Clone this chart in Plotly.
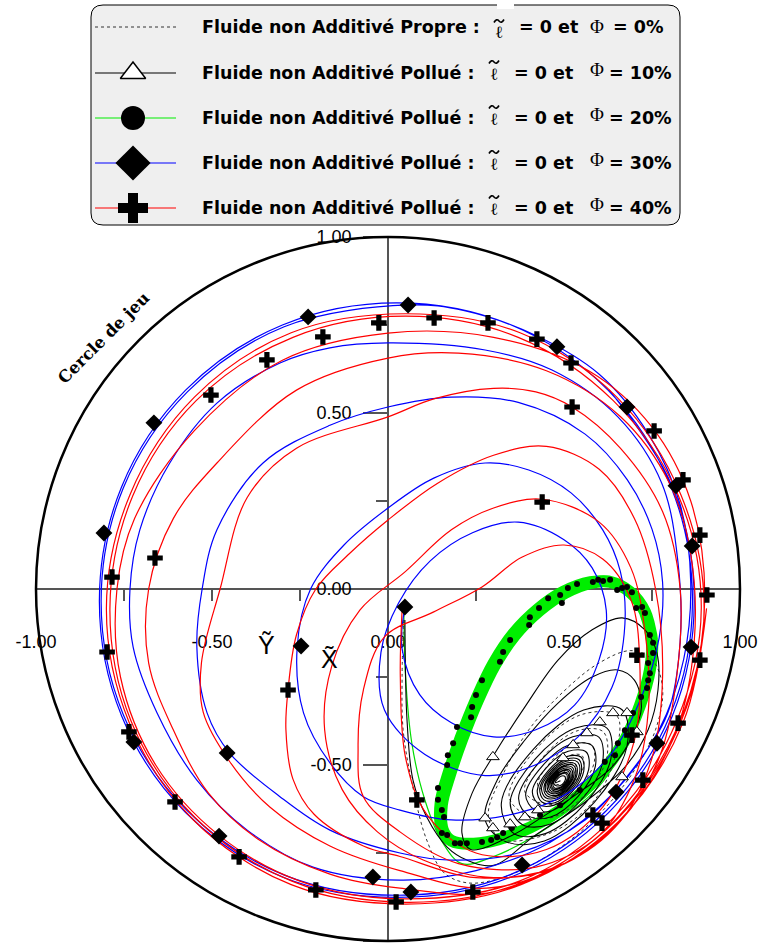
import plotly.graph_objects as go

# ------------------------------------------------------------------
# Rotor centre orbits (X~, Y~) in the bearing, clearance units
# ------------------------------------------------------------------

# Phi = 0 % : clean fluid (dotted)
clean_path = [
    (0.045, -0.070), (0.040, -0.250), (0.043, -0.400), (0.070, -0.560), (0.110, -0.713),
    (0.160, -0.807), (0.227, -0.835), (0.324, -0.820), (0.450, -0.760), (0.580, -0.660),
    (0.690, -0.530), (0.760, -0.400), (0.780, -0.280), (0.750, -0.200), (0.690, -0.175),
    (0.600, -0.210), (0.500, -0.290), (0.400, -0.400), (0.330, -0.520), (0.285, -0.640),
    (0.320, -0.710), (0.461, -0.693), (0.588, -0.598), (0.649, -0.460), (0.650, -0.360),
    (0.549, -0.357), (0.423, -0.452), (0.344, -0.590), (0.399, -0.645), (0.473, -0.647),
    (0.565, -0.578), (0.622, -0.478), (0.611, -0.405), (0.537, -0.403), (0.445, -0.472),
    (0.388, -0.573), (0.432, -0.608), (0.483, -0.609), (0.546, -0.561), (0.586, -0.492),
    (0.578, -0.443), (0.527, -0.441), (0.464, -0.489), (0.425, -0.558), (0.459, -0.578),
    (0.491, -0.578), (0.531, -0.548), (0.556, -0.504), (0.551, -0.473), (0.519, -0.472),
    (0.479, -0.502), (0.454, -0.546), (0.479, -0.555), (0.497, -0.556), (0.520, -0.539),
    (0.534, -0.513), (0.531, -0.495), (0.512, -0.497), (0.500, -0.515), (0.505, -0.525),
]

# Phi = 10 % : converging spiral
phi10_path = [
    (0.048, -0.088), (0.050, -0.250), (0.054, -0.372), (0.071, -0.543), (0.110, -0.648),
    (0.168, -0.733), (0.224, -0.770), (0.300, -0.785), (0.418, -0.700), (0.560, -0.605),
    (0.673, -0.506), (0.739, -0.400), (0.767, -0.287), (0.764, -0.182), (0.730, -0.116),
    (0.665, -0.082), (0.580, -0.116), (0.483, -0.202), (0.389, -0.335), (0.304, -0.466),
    (0.239, -0.580), (0.210, -0.693), (0.235, -0.740),
    (0.352, -0.700), (0.438, -0.648), (0.540, -0.580), (0.636, -0.506), (0.693, -0.420),
    (0.720, -0.335), (0.700, -0.259), (0.653, -0.230), (0.580, -0.250), (0.483, -0.324),
    (0.389, -0.429), (0.310, -0.543), (0.276, -0.656),
    (0.335, -0.718), (0.444, -0.716), (0.586, -0.606), (0.678, -0.451), (0.665, -0.343),
    (0.556, -0.344), (0.414, -0.454), (0.322, -0.609),
    (0.358, -0.695), (0.447, -0.695), (0.561, -0.608), (0.633, -0.483), (0.622, -0.395),
    (0.533, -0.395), (0.419, -0.482), (0.347, -0.607),
    (0.381, -0.669), (0.455, -0.670), (0.550, -0.598), (0.609, -0.495), (0.599, -0.421),
    (0.525, -0.420), (0.430, -0.492), (0.371, -0.595),
    (0.401, -0.646), (0.462, -0.648), (0.540, -0.589), (0.589, -0.504), (0.579, -0.444),
    (0.517, -0.442), (0.440, -0.501), (0.391, -0.585),
    (0.417, -0.628), (0.468, -0.629), (0.531, -0.581), (0.570, -0.513), (0.563, -0.463),
    (0.512, -0.461), (0.449, -0.509), (0.410, -0.577),
    (0.431, -0.613), (0.472, -0.614), (0.524, -0.575), (0.556, -0.518), (0.549, -0.478),
    (0.508, -0.476), (0.456, -0.515), (0.424, -0.572),
    (0.437, -0.605), (0.474, -0.607), (0.521, -0.572), (0.549, -0.522), (0.543, -0.485),
    (0.506, -0.484), (0.459, -0.518), (0.431, -0.568),
    (0.443, -0.599), (0.476, -0.600), (0.518, -0.569), (0.544, -0.524), (0.538, -0.491),
    (0.504, -0.490), (0.462, -0.521), (0.436, -0.566),
    (0.448, -0.593), (0.478, -0.594), (0.515, -0.567), (0.537, -0.527), (0.532, -0.497),
    (0.502, -0.496), (0.465, -0.523), (0.443, -0.563),
    (0.452, -0.588), (0.479, -0.589), (0.513, -0.565), (0.533, -0.529), (0.528, -0.502),
    (0.501, -0.501), (0.468, -0.525), (0.447, -0.561),
    (0.456, -0.583), (0.481, -0.585), (0.510, -0.563), (0.528, -0.531), (0.524, -0.507),
    (0.500, -0.505), (0.470, -0.527), (0.452, -0.559),
    (0.460, -0.579), (0.482, -0.580), (0.508, -0.561), (0.524, -0.532), (0.520, -0.511),
    (0.498, -0.510), (0.472, -0.529), (0.456, -0.558),
    (0.464, -0.575), (0.482, -0.576), (0.506, -0.559), (0.520, -0.534), (0.516, -0.515),
    (0.498, -0.514), (0.474, -0.531), (0.460, -0.556),
    (0.467, -0.571), (0.484, -0.573), (0.504, -0.558), (0.516, -0.535), (0.513, -0.519),
    (0.496, -0.517), (0.476, -0.533), (0.464, -0.555),
    (0.470, -0.568), (0.485, -0.568), (0.502, -0.556), (0.513, -0.537), (0.510, -0.523),
    (0.496, -0.522), (0.478, -0.534), (0.468, -0.553),
    (0.473, -0.565), (0.485, -0.565), (0.501, -0.554), (0.509, -0.538), (0.507, -0.526),
    (0.495, -0.525), (0.480, -0.536), (0.471, -0.552),
    (0.478, -0.559), (0.487, -0.559), (0.498, -0.552), (0.504, -0.541), (0.502, -0.532),
    (0.493, -0.531), (0.483, -0.538), (0.476, -0.550), (0.490, -0.545),
]
phi10_marks = [
    (0.298, -0.477), (0.276, -0.651), (0.298, -0.679), (0.347, -0.668), (0.389, -0.648),
    (0.426, -0.628), (0.497, -0.480), (0.526, -0.443), (0.565, -0.409), (0.602, -0.378),
    (0.639, -0.352), (0.679, -0.352), (0.665, -0.534), (0.707, -0.406),
]

# Phi = 20 % : transient then limit cycle (band = repeated laps)
phi20_transient = [
    (0.045, -0.060), (0.050, -0.250), (0.068, -0.440), (0.105, -0.600), (0.155, -0.720),
    (0.210, -0.780), (0.300, -0.760), (0.466, -0.670), (0.600, -0.560), (0.680, -0.430),
    (0.720, -0.320), (0.745, -0.200), (0.750, -0.145),
]
phi20_cycle = [
    (0.750, -0.145), (0.730, -0.065), (0.688, -0.009), (0.631, 0.020), (0.574, 0.017),
    (0.503, -0.011), (0.432, -0.060), (0.361, -0.131), (0.304, -0.216), (0.256, -0.315),
    (0.210, -0.429), (0.176, -0.528), (0.153, -0.614), (0.156, -0.685), (0.180, -0.715),
    (0.261, -0.722), (0.375, -0.690), (0.489, -0.628), (0.602, -0.528), (0.673, -0.429),
    (0.716, -0.330), (0.744, -0.230), (0.750, -0.145), (0.730, -0.065),
]
phi20_cycle_outer = [
    (0.631, 0.026), (0.574, 0.025), (0.495, -0.003), (0.423, -0.052), (0.352, -0.123),
    (0.295, -0.208), (0.247, -0.307), (0.201, -0.421), (0.167, -0.520), (0.144, -0.606),
    (0.147, -0.680), (0.170, -0.712),
]
phi20_marks = [
    (0.537, 0.014), (0.582, 0.020), (0.597, 0.026), (0.611, 0.023), (0.631, 0.026),
    (0.651, -0.003), (0.665, 0.003), (0.679, 0.006), (0.693, -0.009), (0.705, -0.054),
    (0.722, -0.051), (0.730, -0.068), (0.744, -0.131), (0.753, -0.153), (0.753, -0.182),
    (0.511, 0.003), (0.489, -0.017), (0.494, -0.040), (0.455, -0.026), (0.429, -0.054),
    (0.403, -0.080), (0.401, -0.102), (0.347, -0.145), (0.327, -0.179), (0.318, -0.207),
    (0.267, -0.259), (0.250, -0.301), (0.239, -0.335), (0.236, -0.364), (0.196, -0.392),
    (0.185, -0.438), (0.170, -0.472), (0.168, -0.500), (0.142, -0.565), (0.142, -0.599),
    (0.153, -0.628), (0.159, -0.648), (0.153, -0.693), (0.168, -0.699), (0.190, -0.722),
    (0.205, -0.722), (0.224, -0.722), (0.267, -0.719), (0.293, -0.713), (0.310, -0.705),
    (0.327, -0.693), (0.352, -0.679), (0.432, -0.642), (0.489, -0.614), (0.545, -0.571),
    (0.616, -0.491), (0.645, -0.472), (0.653, -0.438), (0.673, -0.401), (0.696, -0.352),
    (0.719, -0.307), (0.736, -0.281), (0.739, -0.259), (0.744, -0.239), (0.739, -0.210),
]

# Phi = 30 % : diverging orbit
phi30_path = [
    (0.048, -0.051), (0.040, -0.170), (0.090, -0.300), (0.180, -0.380), (0.300, -0.420),
    (0.420, -0.400), (0.530, -0.330), (0.600, -0.200), (0.620, -0.060), (0.580, 0.060),
    (0.500, 0.140), (0.370, 0.190), (0.240, 0.160), (0.120, 0.080), (0.030, -0.040),
    (-0.020, -0.180), (-0.010, -0.344), (0.105, -0.470), (0.276, -0.530), (0.418, -0.500),
    (0.540, -0.420), (0.636, -0.280), (0.673, -0.100), (0.660, 0.050), (0.610, 0.168),
    (0.520, 0.273), (0.400, 0.338), (0.276, 0.358), (0.130, 0.315), (0.000, 0.230),
    (-0.125, 0.125), (-0.220, 0.000), (-0.258, -0.165), (-0.240, -0.352), (-0.165, -0.494),
    (-0.070, -0.590), (0.034, -0.628), (0.180, -0.656), (0.370, -0.636), (0.510, -0.580),
    (0.636, -0.466), (0.720, -0.307), (0.770, -0.140), (0.780, 0.020), (0.750, 0.170),
    (0.680, 0.310), (0.560, 0.440), (0.370, 0.530), (0.180, 0.545), (0.000, 0.517),
    (-0.165, 0.465), (-0.355, 0.358), (-0.486, 0.168), (-0.528, 0.000), (-0.543, -0.165),
    (-0.514, -0.352), (-0.450, -0.466), (-0.307, -0.590), (-0.165, -0.685), (0.034, -0.750),
    (0.180, -0.770), (0.370, -0.750), (0.560, -0.656), (0.700, -0.506), (0.795, -0.352),
    (0.830, -0.150), (0.824, 0.074), (0.778, 0.300), (0.653, 0.489), (0.466, 0.622),
    (0.276, 0.679), (0.000, 0.699), (-0.165, 0.685), (-0.307, 0.642), (-0.486, 0.528),
    (-0.620, 0.358), (-0.705, 0.168), (-0.733, 0.000), (-0.724, -0.165), (-0.656, -0.352),
    (-0.543, -0.543), (-0.400, -0.685), (-0.213, -0.790), (0.034, -0.827), (0.250, -0.800),
    (0.460, -0.720), (0.640, -0.580), (0.770, -0.400), (0.840, -0.200), (0.860, 0.020),
    (0.830, 0.240), (0.740, 0.440), (0.600, 0.610), (0.420, 0.720), (0.220, 0.790),
    (0.057, 0.807), (-0.295, 0.745), (-0.570, 0.560), (-0.752, 0.287), (-0.815, -0.035),
    (-0.752, -0.357), (-0.570, -0.630), (-0.296, -0.812), (0.025, -0.870), (0.346, -0.812),
    (0.620, -0.630), (0.802, -0.357), (0.865, -0.035), (0.804, 0.290), (0.625, 0.565),
    (0.350, 0.750), (0.025, 0.813), (-0.300, 0.750), (-0.575, 0.565), (-0.757, 0.290),
    (-0.820, -0.035), (-0.757, -0.360), (-0.575, -0.635), (-0.300, -0.818), (0.025, -0.876),
    (0.350, -0.818), (0.626, -0.636), (0.808, -0.360), (0.870, -0.035), (0.808, 0.290),
    (0.628, 0.566),
]
phi30_marks = [
    (-0.227, 0.773), (-0.665, 0.472), (-0.807, 0.159), (0.057, 0.807), (0.480, 0.688),
    (0.679, 0.517), (0.818, 0.293), (0.864, 0.122), (-0.247, -0.162), (-0.457, -0.466),
    (-0.722, -0.435), (-0.480, -0.702), (-0.043, -0.818), (0.048, -0.051), (0.861, -0.165),
    (0.764, -0.438), (0.648, -0.577), (0.381, -0.784), (0.065, -0.861),
]

# Phi = 40 % : diverging orbit
phi40_path = [
    (0.040, -0.060), (0.035, -0.250), (0.050, -0.480), (0.110, -0.640), (0.250, -0.750),
    (0.450, -0.740), (0.610, -0.620), (0.700, -0.430), (0.715, -0.200), (0.690, -0.030),
    (0.610, 0.085), (0.500, 0.125), (0.380, 0.090), (0.267, 0.006), (0.130, -0.065),
    (-0.010, -0.136), (-0.070, -0.287), (-0.085, -0.450), (-0.070, -0.590), (0.034, -0.690),
    (0.200, -0.780), (0.420, -0.790), (0.600, -0.700), (0.700, -0.540), (0.740, -0.340),
    (0.730, -0.120), (0.690, 0.060), (0.600, 0.190), (0.438, 0.255), (0.300, 0.230),
    (0.180, 0.168), (0.050, 0.050), (-0.080, -0.060), (-0.160, -0.220), (-0.180, -0.400),
    (-0.130, -0.570), (-0.030, -0.690), (0.100, -0.770), (0.300, -0.820), (0.500, -0.780),
    (0.660, -0.660), (0.750, -0.480), (0.780, -0.250), (0.760, 0.000), (0.700, 0.200),
    (0.600, 0.340), (0.450, 0.405), (0.300, 0.380), (0.140, 0.300), (0.000, 0.196),
    (-0.110, 0.100), (-0.205, 0.000), (-0.260, -0.130), (-0.284, -0.287), (-0.290, -0.400),
    (-0.270, -0.540), (-0.210, -0.640), (-0.070, -0.730), (0.034, -0.760), (0.250, -0.820),
    (0.480, -0.790), (0.660, -0.660), (0.770, -0.480), (0.820, -0.250), (0.830, 0.000),
    (0.780, 0.220), (0.660, 0.400), (0.523, 0.517), (0.420, 0.560), (0.300, 0.570),
    (0.130, 0.540), (0.000, 0.489), (-0.260, 0.400), (-0.400, 0.260), (-0.477, 0.000),
    (-0.530, -0.210), (-0.525, -0.350), (-0.450, -0.490), (-0.335, -0.620), (-0.165, -0.730),
    (0.034, -0.800), (0.280, -0.850), (0.520, -0.770), (0.700, -0.610), (0.820, -0.400),
    (0.870, -0.150), (0.860, 0.100), (0.800, 0.300), (0.660, 0.490), (0.450, 0.620),
    (0.200, 0.670), (0.000, 0.656), (-0.260, 0.565), (-0.486, 0.358), (-0.610, 0.200),
    (-0.680, 0.000), (-0.680, -0.210), (-0.610, -0.400), (-0.510, -0.580), (-0.370, -0.710),
    (-0.165, -0.810), (0.034, -0.850), (0.300, -0.860), (0.550, -0.740), (0.740, -0.540),
    (0.860, -0.290), (0.900, -0.020), (0.860, 0.250), (0.750, 0.460), (0.570, 0.620),
    (0.300, 0.715), (0.000, 0.727), (-0.300, 0.650), (-0.550, 0.450), (-0.720, 0.200),
    (-0.770, 0.000), (-0.760, -0.250), (-0.660, -0.500), (-0.480, -0.700), (-0.250, -0.830),
    (0.030, -0.880), (0.373, -0.830), (0.640, -0.650), (0.820, -0.375), (0.890, -0.055),
    (0.825, 0.265), (0.640, 0.535), (0.370, 0.715), (0.050, 0.775), (-0.270, 0.715),
    (-0.545, 0.535), (-0.725, 0.265), (-0.790, -0.055), (-0.730, -0.375), (-0.548, -0.650),
    (-0.273, -0.830), (0.050, -0.890), (0.375, -0.836), (0.650, -0.655), (0.832, -0.378),
    (0.898, -0.055), (0.832, 0.268), (0.650, 0.545), (0.375, 0.728), (0.050, 0.782),
    (-0.275, 0.728), (-0.550, 0.545), (-0.733, 0.268), (-0.800, -0.055), (-0.735, -0.380),
    (-0.552, -0.657), (-0.275, -0.840), (0.050, -0.895), (0.378, -0.840), (0.655, -0.660),
    (0.838, -0.380), (0.905, -0.055),
]
phi40_marks = [
    (-0.026, 0.756), (-0.185, 0.716), (-0.344, 0.651), (-0.503, 0.551), (-0.662, 0.088),
    (-0.784, 0.034), (0.131, 0.770), (0.284, 0.756), (0.423, 0.710), (0.520, 0.642),
    (0.523, 0.517), (0.756, 0.449), (0.838, 0.310), (0.886, 0.153), (0.906, -0.017),
    (0.438, 0.247), (-0.798, -0.179), (-0.736, -0.406), (-0.605, -0.605), (-0.423, -0.761),
    (-0.205, -0.855), (0.023, -0.889), (-0.284, -0.287), (0.707, -0.188), (0.886, -0.202),
    (0.824, -0.381), (0.693, -0.415), (0.724, -0.543), (0.582, -0.642), (0.608, -0.665),
    (0.241, -0.861), (0.082, -0.599),
]

axis_ticks = [-1.0, -0.5, 0.0, 0.5, 1.0]
axis_ticktext = ["-1.00", "-0.50", "0.00", "0.50", "1.00"]
axis_minor = [-0.75, -0.25, 0.25, 0.75]

legend_rows = [
    ("Fluide non Additivé Propre :", "= 0%"),
    ("Fluide non Additivé Pollué :", "= 10%"),
    ("Fluide non Additivé Pollué :", "= 20%"),
    ("Fluide non Additivé Pollué :", "= 30%"),
    ("Fluide non Additivé Pollué :", "= 40%"),
]

# ------------------------------------------------------------------
# Page geometry (pixels): bearing centre, clearance radius
# ------------------------------------------------------------------
W, H = 760, 948
CX, CY, R = 388, 589, 352
x_dom = [(CX - R) / W, (CX + R) / W]
y_dom = [1 - (CY + R) / H, 1 - (CY - R) / H]


def xs(path):
    return [p[0] for p in path]


def ys(path):
    return [p[1] for p in path]


fig = go.Figure()

SPL = dict(shape="spline", smoothing=1.0)

# limit cycle band first, orbit lines on top
fig.add_trace(go.Scatter(x=xs(phi20_cycle), y=ys(phi20_cycle), mode="lines",
                         line=dict(color="#00ee00", width=12, **SPL), hoverinfo="skip"))
fig.add_trace(go.Scatter(x=xs(phi20_cycle_outer), y=ys(phi20_cycle_outer), mode="lines",
                         line=dict(color="#00ee00", width=8, **SPL), hoverinfo="skip"))
fig.add_trace(go.Scatter(x=xs(phi20_transient), y=ys(phi20_transient), mode="lines",
                         line=dict(color="#00dd00", width=1.2, **SPL), hoverinfo="skip"))
fig.add_trace(go.Scatter(x=xs(clean_path), y=ys(clean_path), mode="lines",
                         line=dict(color="#333333", width=1, dash="dot", **SPL), hoverinfo="skip"))
fig.add_trace(go.Scatter(x=xs(phi10_path), y=ys(phi10_path), mode="lines",
                         line=dict(color="black", width=1.1, **SPL), hoverinfo="skip"))
fig.add_trace(go.Scatter(x=xs(phi30_path), y=ys(phi30_path), mode="lines",
                         line=dict(color="#0000ff", width=1.2, **SPL), hoverinfo="skip"))
fig.add_trace(go.Scatter(x=xs(phi40_path), y=ys(phi40_path), mode="lines",
                         line=dict(color="#ff0000", width=1.2, **SPL), hoverinfo="skip"))

# sample markers along each orbit
fig.add_trace(go.Scatter(x=xs(phi20_marks), y=ys(phi20_marks), mode="markers",
                         marker=dict(symbol="circle", size=6, color="black"), hoverinfo="skip"))
fig.add_trace(go.Scatter(x=xs(phi10_marks), y=ys(phi10_marks), mode="markers",
                         marker=dict(symbol="triangle-up", size=11, color="white",
                                     line=dict(color="black", width=1)), hoverinfo="skip"))
fig.add_trace(go.Scatter(x=xs(phi30_marks), y=ys(phi30_marks), mode="markers",
                         marker=dict(symbol="diamond", size=13, color="black"), hoverinfo="skip"))
fig.add_trace(go.Scatter(x=xs(phi40_marks), y=ys(phi40_marks), mode="markers",
                         marker=dict(symbol="cross", size=13, color="black"), hoverinfo="skip"))

# ------------------------------------------------------------------
# Legend drawn in a pixel-space overlay (x2 / y2)
# ------------------------------------------------------------------
row_y = [27, 73, 118, 163, 208]
swatches = [
    dict(line=dict(color="#333333", width=1, dash="dot"), marker=None),
    dict(line=dict(color="black", width=1.2),
         marker=dict(symbol="triangle-up", size=22, color="white", line=dict(color="black", width=1.5))),
    dict(line=dict(color="#00ee00", width=1.2),
         marker=dict(symbol="circle", size=24, color="black")),
    dict(line=dict(color="#0000ff", width=1.2),
         marker=dict(symbol="diamond", size=27, color="black")),
    dict(line=dict(color="#ff0000", width=1.2),
         marker=dict(symbol="cross", size=25, color="black")),
]

fig.add_shape(type="path", xref="x2", yref="y2",
              path="M 103,5 L 668,5 Q 680,5 680,17 L 680,213 Q 680,225 668,225 "
                   "L 103,225 Q 91,225 91,213 L 91,17 Q 91,5 103,5 Z",
              line=dict(color="black", width=1), fillcolor="#efefef", layer="below")
fig.add_shape(type="rect", xref="x2", yref="y2", x0=497, x1=514, y0=0, y1=9,
              line=dict(width=0), fillcolor="white", layer="below")

for ry, sw in zip(row_y, swatches):
    fig.add_trace(go.Scatter(x=[95, 176], y=[ry, ry], mode="lines", line=sw["line"],
                             xaxis="x2", yaxis="y2", hoverinfo="skip"))
    if sw["marker"] is not None:
        fig.add_trace(go.Scatter(x=[133], y=[ry], mode="markers", marker=sw["marker"],
                                 xaxis="x2", yaxis="y2", hoverinfo="skip"))

BOLD = dict(family="DejaVu Sans", size=17.5, color="black")
for i, ((label, pct), ry) in enumerate(zip(legend_rows, row_y)):
    l_x = 499 if i == 0 else 494
    l_y = ry + 5 if i == 0 else ry + 1
    t_y = ry - 6 if i == 0 else ry - 11
    eq_x = 517 if i == 0 else 512
    pc_x = 611 if i == 0 else 607
    fig.add_annotation(x=200, y=ry, xref="x2", yref="y2", text="<b>" + label + "</b>",
                       showarrow=False, xanchor="left", yanchor="middle", font=BOLD)
    fig.add_annotation(x=l_x, y=l_y, xref="x2", yref="y2", text="\u2113",
                       showarrow=False, xanchor="center", yanchor="middle",
                       font=dict(family="DejaVu Serif", size=17, color="black"))
    # tilde accent over the script l
    fig.add_shape(type="path", xref="x2", yref="y2",
                  path=f"M {l_x - 5},{t_y + 1.5} Q {l_x - 2.5},{t_y - 3} {l_x},{t_y} "
                       f"T {l_x + 5},{t_y - 1.5}",
                  line=dict(color="black", width=1.6))
    fig.add_annotation(x=eq_x, y=ry, xref="x2", yref="y2", text="<b>= 0 et</b>",
                       showarrow=False, xanchor="left", yanchor="middle", font=BOLD)
    fig.add_annotation(x=597, y=ry - (1 if i == 0 else 4), xref="x2", yref="y2", text="Φ",
                       showarrow=False, xanchor="center", yanchor="middle",
                       font=dict(family="Liberation Serif", size=19, color="black"))
    fig.add_annotation(x=pc_x, y=ry, xref="x2", yref="y2", text="<b>" + pct + "</b>",
                       showarrow=False, xanchor="left", yanchor="middle", font=BOLD)

# clearance circle and its caption
fig.add_shape(type="circle", xref="paper", yref="paper",
              x0=x_dom[0], x1=x_dom[1], y0=y_dom[0], y1=y_dom[1],
              line=dict(color="black", width=2.5))
fig.add_annotation(x=103, y=338, xref="x2", yref="y2", text="<b>Cercle de jeu</b>",
                   showarrow=False, textangle=-45,
                   font=dict(family="DejaVu Serif", size=16.5, color="black"))

# axis names
fig.add_annotation(x=266, y=645, xref="x2", yref="y2", text="Ỹ", showarrow=False,
                   font=dict(family="Liberation Sans", size=25, color="black"))
fig.add_annotation(x=329, y=659, xref="x2", yref="y2", text="X\u0303", showarrow=False,
                   font=dict(family="Liberation Sans", size=25, color="black"))

AX_COL = "#555555"
TICK_FONT = dict(family="Liberation Sans", size=18, color="black")
fig.update_layout(
    width=W, height=H, autosize=False,
    margin=dict(l=0, r=0, t=0, b=0, pad=0),
    paper_bgcolor="white", plot_bgcolor="rgba(0,0,0,0)",
    showlegend=False,
    xaxis=dict(domain=x_dom, range=[-1, 1], anchor="free", position=1 - CY / H,
               automargin=False,
               showgrid=False, zeroline=False, showline=True, linecolor=AX_COL, linewidth=1.5,
               ticks="outside", ticklen=11, tickcolor=AX_COL, tickwidth=1.5,
               tickmode="array", tickvals=axis_ticks, ticktext=axis_ticktext,
               tickfont=TICK_FONT, ticklabelstandoff=26,
               minor=dict(tickmode="array", tickvals=axis_minor, ticks="outside",
                          ticklen=11, tickcolor=AX_COL, tickwidth=1.5),
               layer="below traces", fixedrange=True),
    yaxis=dict(domain=y_dom, range=[-1, 1], anchor="free", position=CX / W,
               automargin=False,
               showgrid=False, zeroline=False, showline=True, linecolor=AX_COL, linewidth=1.5,
               ticks="outside", ticklen=24, tickcolor=AX_COL, tickwidth=1.5,
               tickmode="array", tickvals=axis_ticks, ticktext=axis_ticktext,
               tickfont=TICK_FONT, ticklabelstandoff=8,
               minor=dict(tickmode="array", tickvals=axis_minor, ticks="outside",
                          ticklen=11, tickcolor=AX_COL, tickwidth=1.5),
               layer="below traces", fixedrange=True),
    xaxis2=dict(domain=[0, 1], range=[0, W], anchor="y2", visible=False,
                automargin=False, fixedrange=True),
    yaxis2=dict(domain=[0, 1], range=[H, 0], anchor="x2", visible=False,
                automargin=False, fixedrange=True),
)

fig.write_html("out.html", config={"displayModeBar": False})
